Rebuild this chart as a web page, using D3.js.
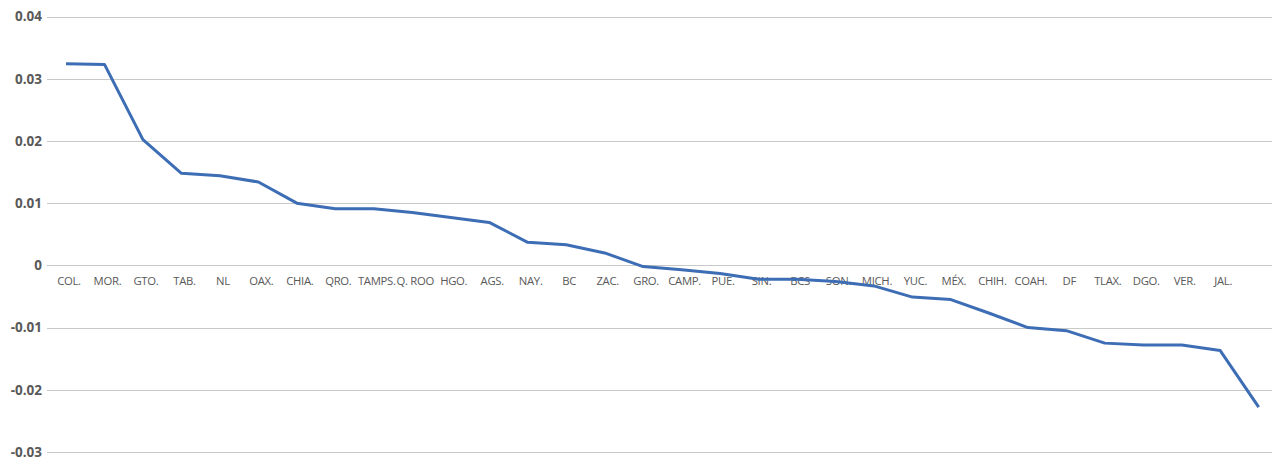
<!DOCTYPE html>
<html>
<head>
<meta charset="utf-8">
<script src="https://cdn.jsdelivr.net/npm/d3@7"></script>
<style>
  html, body { margin: 0; padding: 0; background: #fff; }
  svg { display: block; }
</style>
</head>
<body>
<svg id="chart" width="1272" height="461"></svg>
<script>
const categories = ["COL.", "MOR.", "GTO.", "TAB.", "NL", "OAX.", "CHIA.", "QRO.", "TAMPS.", "Q. ROO",
  "HGO.", "AGS.", "NAY.", "BC", "ZAC.", "GRO.", "CAMP.", "PUE.", "SIN.", "BCS",
  "SON.", "MICH.", "YUC.", "MÉX.", "CHIH.", "COAH.", "DF", "TLAX.", "DGO.", "VER.",
  "JAL.", ""];
const values = [0.0324, 0.0323, 0.0202, 0.0148, 0.0144, 0.0134, 0.0100, 0.0091, 0.0091, 0.0085,
  0.0077, 0.0069, 0.0037, 0.0033, 0.0020, -0.0002, -0.0007, -0.0013, -0.00225, -0.00225,
  -0.0026, -0.0033, -0.0051, -0.0055, -0.0077, -0.0100, -0.0105, -0.0125, -0.0128, -0.0128,
  -0.0137, -0.0228];
const yTicks = [0.04, 0.03, 0.02, 0.01, 0, -0.01, -0.02, -0.03];
const yTickLabels = ["0.04", "0.03", "0.02", "0.01", "0", "-0.01", "-0.02", "-0.03"];

const svg = d3.select("#chart");
const gridLeft = 47, gridRight = 1272;

const y = d3.scaleLinear().domain([-0.03, 0.04]).range([452, 16.5]);
const x = d3.scalePoint().domain(d3.range(categories.length)).range([66, 1258.7]);

// gridlines
svg.append("g").selectAll("line").data(yTicks).join("line")
  .attr("x1", gridLeft).attr("x2", gridRight)
  .attr("y1", d => Math.round(y(d)) + 0.5).attr("y2", d => Math.round(y(d)) + 0.5)
  .attr("stroke", "#c9c9c9").attr("stroke-width", 1.2);

// y labels
svg.append("g").selectAll("text").data(yTicks).join("text")
  .attr("x", 42).attr("y", d => y(d))
  .attr("dy", "0.36em")
  .attr("text-anchor", "end")
  .attr("font-family", "'Open Sans', sans-serif")
  .attr("font-weight", 700)
  .attr("font-size", 13.5)
  .attr("fill", "#595959")
  .text((d, i) => yTickLabels[i]);

// x labels
svg.append("g").selectAll("text").data(categories).join("text")
  .attr("x", (d, i) => x(i) + 3).attr("y", 285)
  .attr("text-anchor", "middle")
  .attr("font-family", "'Open Sans', sans-serif")
  .attr("font-size", 11.3)
  .attr("letter-spacing", "-0.3px")
  .attr("fill", "#595959")
  .text(d => d);

// line
const line = d3.line().x((d, i) => x(i)).y(d => y(d));
svg.append("path").datum(values)
  .attr("d", line)
  .attr("fill", "none")
  .attr("stroke", "#3d6db4")
  .attr("stroke-width", 3)
  .attr("stroke-linejoin", "round");
</script>
</body>
</html>
